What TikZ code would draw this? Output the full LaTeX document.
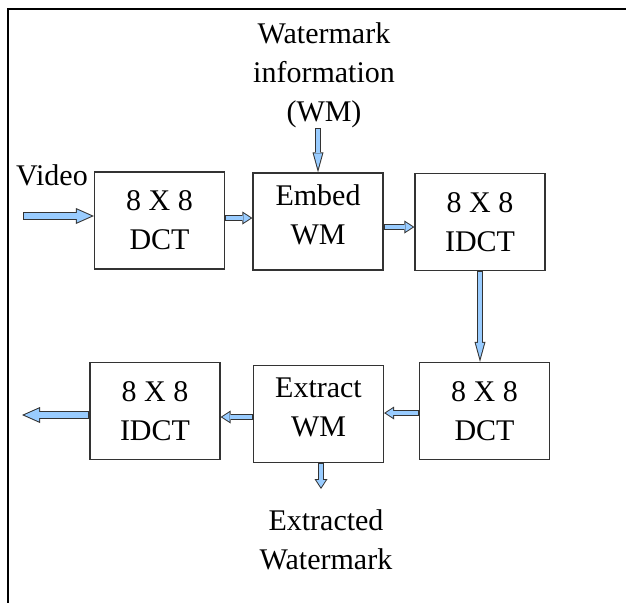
\documentclass[tikz,border=0pt]{standalone}
\usepackage{fontspec}
\setmainfont{Liberation Serif}
\usetikzlibrary{arrows.meta}
\definecolor{arrowfill}{HTML}{99CCFF}
\definecolor{arrowline}{HTML}{333333}
\definecolor{boxline}{HTML}{333333}

\begin{document}
\begin{tikzpicture}[x=1pt, y=-1pt, font=\fontsize{30}{39}\selectfont,
    box/.style={draw=boxline, line width=1.2pt, minimum width=130pt, minimum height=97pt, align=center, inner sep=0pt},
    lbl/.style={align=center, inner sep=0pt},
    bigarrow/.style={draw=arrowfill, line width=5.5pt, shorten <=1pt, shorten >=2.5pt,
        -{Triangle[length=14.5pt, width=12.9pt, line width=0pt]},
        preaction={draw=arrowline, line width=7.5pt, shorten <=0pt, shorten >=0pt,
            -{Triangle[length=18pt, width=16pt, line width=0pt]}}},
    smallarrow/.style={draw=arrowfill, line width=4.5pt, shorten <=1pt, shorten >=1.8pt,
        -{Triangle[length=7.2pt, width=9.4pt, line width=0pt]},
        preaction={draw=arrowline, line width=6.5pt, shorten <=0pt, shorten >=0pt,
            -{Triangle[length=10pt, width=13pt, line width=0pt]}}},
    longarrow/.style={draw=arrowfill, line width=4pt, shorten <=1pt, shorten >=3.8pt,
        -{Triangle[length=15.2pt, width=8.4pt, line width=0pt]},
        preaction={draw=arrowline, line width=6pt, shorten <=0pt, shorten >=0pt,
            -{Triangle[length=20pt, width=11pt, line width=0pt]}}}]
        \useasboundingbox (0,0) rectangle (626,603);

        % Marco
        \draw[line width=1.2pt] (626,9) -- (8,9) -- (8,603);

        % Bloques de inserción
        \node[box] (dct1) at (159.5,220.5) {8 X 8\\DCT};
        \node[box] (embed) at (318,221.5) {Embed\\WM\rule[-13pt]{0pt}{13pt}};
        \node[box] (idct1) at (480,222) {8 X 8\\IDCT};

        % Bloques de extracción
        \node[box] (dct2) at (484.5,411) {8 X 8\\DCT};
        \node[box] (extract) at (318.5,414) {Extract\\WM\rule[-13pt]{0pt}{13pt}};
        \node[box] (idct2) at (155,411) {8 X 8\\IDCT};

        % Textos
        \node[lbl] (wm) at (324,75.5) {Watermark\\information\\(WM)};
        \node[lbl, anchor=base] (video) at (52,185) {Video};
        \node[lbl] (exwm) at (326,540) {Extracted\\Watermark};
        \coordinate (vin) at (23,216);
        \coordinate (vout) at (22,415);
        \coordinate (exout) at (321,489);

        % Flechas
        \draw[bigarrow] (vin) -- (vin -| dct1.west);
        \draw[smallarrow] ([yshift=2.5pt]dct1.east) -- ([yshift=2.5pt]dct1.east -| embed.west);
        \draw[smallarrow] ([yshift=-5.5pt]embed.east) -- ([yshift=-5.5pt]embed.east -| idct1.west);
        \draw[longarrow] (embed.north |- wm.south) -- (embed.north);
        \draw[longarrow] (idct1.south) -- (idct1.south |- dct2.north);
        \draw[smallarrow] ([yshift=-2pt]dct2.west) -- ([yshift=-2pt]dct2.west -| extract.east);
        \draw[smallarrow] ([yshift=-3pt]extract.west) -- ([yshift=-3pt]extract.west -| idct2.east);
        \draw[bigarrow] (idct2.west |- vout) -- (vout);
        \draw[smallarrow] (extract.south -| exout) -- (exout);

    \end{tikzpicture}
\end{document}
